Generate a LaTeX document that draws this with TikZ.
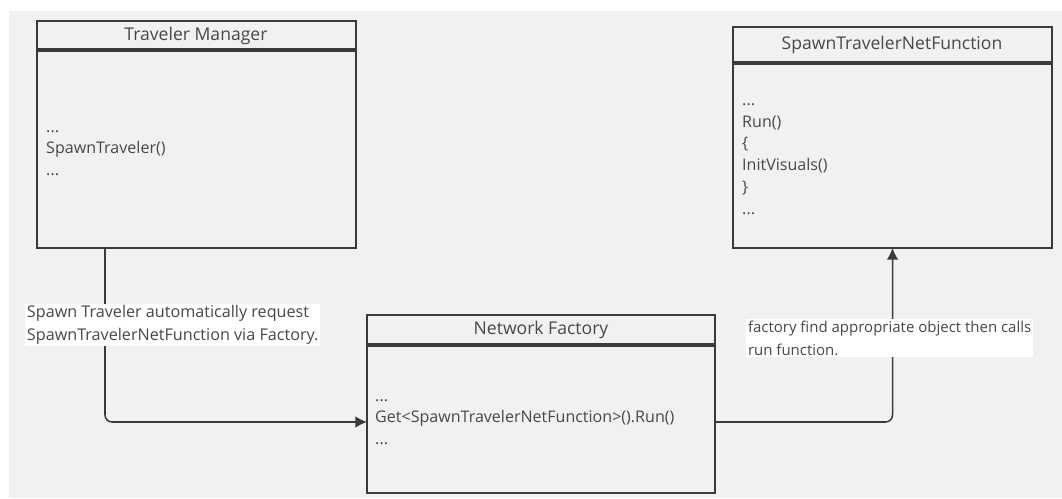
\documentclass[tikz,border=0pt]{standalone}
\usepackage{fontspec}
\setmainfont{Open Sans}
\usetikzlibrary{calc}
\usetikzlibrary{arrows.meta}
\definecolor{canvas}{HTML}{F1F1F1}
\definecolor{ink}{HTML}{3A3A3A}
\definecolor{txt}{HTML}{484848}
\tikzset{%
    classbox/.style={inner sep=0pt,outer sep=0pt,shape=rectangle,draw=ink,line width=1.6pt,anchor=north west},
    classtitle/.style={inner sep=0pt,text=txt,font=\fontsize{15}{17}\selectfont},
    members/.style={inner sep=0pt,text=txt,align=left,anchor=west,font=\fontsize{13.7}{18.6}\selectfont},
    divider/.style={draw=ink,line width=2.6pt},
    link/.style={-{Latex[length=10pt,width=10pt]},draw=ink,line width=1.3pt,rounded corners=6pt},
    note/.style={inner sep=1.5pt,fill=white,text=txt,align=left,anchor=west,font=\fontsize{13.8}{19.5}\selectfont},
}

\begin{document}
\begin{tikzpicture}[x=0.03cm,y=-0.03cm]
      \useasboundingbox (0,0) rectangle (1062,498);
      \fill[canvas] (9,11) rectangle (1062,498);

      % Traveler Manager
      \node [classbox,minimum width=9.57cm,minimum height=6.81cm] (tm) at (37,21) {};
      \draw [divider] (tm.west |- 0,50) -- (tm.east |- 0,50);
      \node [classtitle] (tmtitle) at (196,36) {Traveler Manager};
      \node [members] (tmbody) at (46,153) {...\\SpawnTraveler()\\...};

      % SpawnTravelerNetFunction
      \node [classbox,minimum width=9.57cm,minimum height=6.63cm] (stn) at (733,27) {};
      \draw [divider] (stn.west |- 0,63) -- (stn.east |- 0,63);
      \node [classtitle] (stntitle) at (892,45) {SpawnTravelerNetFunction};
      \node [members] (stnbody) at (742,159) {...\\Run()\\\{\\InitVisuals()\\\}\\...};

      % Network Factory
      \node [classbox,minimum width=10.44cm,minimum height=5.34cm] (nf) at (367,315) {};
      \draw [divider] (nf.west |- 0,345) -- (nf.east |- 0,345);
      \node [classtitle] (nftitle) at (541,330) {Network Factory};
      \node [members] (nfbody) at (375,422) {...\\Get<SpawnTravelerNetFunction>().Run()\\...};

      \draw [link] ($(tm.south west)+(68,0)$) |- (nf.west |- nfbody.center);
      \draw [link] (nf.east |- nfbody.center) -| (stn.south);

      \node [note] (reqnote) at (25,325) {Spawn Traveler automatically request\\SpawnTravelerNetFunction via Factory.};
      \node [note,font=\fontsize{12.8}{19.5}\selectfont] (runnote) at (746,338) {factory find appropriate object then calls\\run function.};
    \end{tikzpicture}
\end{document}
